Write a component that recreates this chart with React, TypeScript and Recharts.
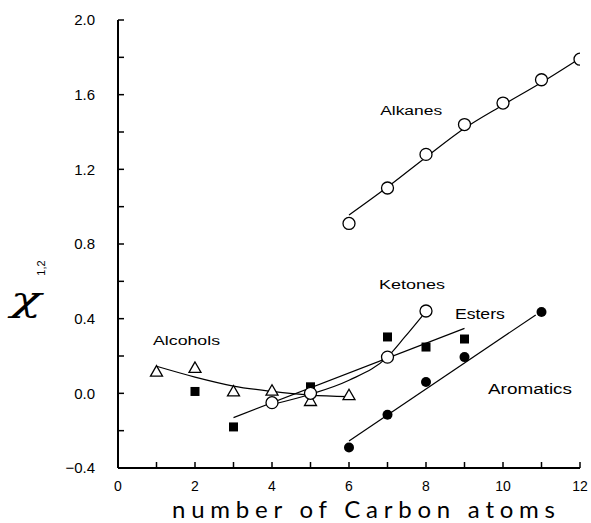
import React from "react";
import {
  ComposedChart,
  Line,
  Scatter,
  XAxis,
  YAxis,
} from "recharts";

// measured points
const alkanesX = [6, 7, 8, 9, 10, 11, 12];
const alkanesY = [0.91, 1.1, 1.28, 1.44, 1.555, 1.68, 1.79];

const alcoholsX = [1, 2, 3, 4, 5, 6];
const alcoholsY = [0.116, 0.136, 0.01, 0.014, -0.041, -0.01];

const estersX = [2, 3, 5, 7, 8, 9];
const estersY = [0.01, -0.18, 0.035, 0.302, 0.248, 0.291];

const ketonesX = [4, 5, 7, 8];
const ketonesY = [-0.05, 0.0, 0.194, 0.441];

const aromaticsX = [6, 7, 8, 9, 11];
const aromaticsY = [-0.29, -0.115, 0.061, 0.194, 0.436];

// fitted curves drawn in the figure
const alkanesFitX = [6, 7, 8, 9, 10, 11, 11.85];
const alkanesFitY = [0.955, 1.105, 1.265, 1.42, 1.545, 1.665, 1.775];

const alcoholsFitX = [1, 2, 3, 4, 5, 6];
const alcoholsFitY = [0.145, 0.087, 0.039, 0.01, -0.01, -0.018];

const estersFitX = [3, 9];
const estersFitY = [-0.13, 0.348];

const ketonesFitX = [4, 5, 6, 7, 7.45, 7.9];
const ketonesFitY = [-0.06, -0.005, 0.07, 0.195, 0.302, 0.414];

const aromaticsFitX = [6, 10.85];
const aromaticsFitY = [-0.255, 0.42];

// series names, placed where they sit in the figure (data coords)
const labelNames = ["Alkanes", "Ketones", "Esters", "Alcohols", "Aromatics"];
const labelX = [6.81, 6.78, 8.75, 0.91, 9.61];
const labelY = [1.491, 0.559, 0.398, 0.259, -0.004];
const labelWidth = [62, 66, 50, 67, 84];
const labelSize = [12, 13.5, 15, 12.5, 14];

const xTicks = [0, 1, 2, 3, 4, 5, 6, 7, 8, 9, 10, 11, 12];
const yTicks = [-0.4, -0.2, 0, 0.2, 0.4, 0.6, 0.8, 1.0, 1.2, 1.4, 1.6, 1.8, 2.0];

const zip = (xs: number[], ys: number[]) => xs.map((x, i) => ({ x, y: ys[i] }));

const labels = labelNames.map((name, i) => ({
  name,
  x: labelX[i],
  y: labelY[i],
  w: labelWidth[i],
  fs: labelSize[i],
}));

const OpenCircle = ({ cx, cy }: any) => (
  <circle cx={cx} cy={cy} r={6} fill="#fff" stroke="#000" strokeWidth={1.3} />
);
const FilledCircle = ({ cx, cy }: any) => <circle cx={cx} cy={cy} r={5} fill="#000" />;
const Square = ({ cx, cy }: any) => (
  <rect x={cx - 4.5} y={cy - 4.5} width={9} height={9} fill="#000" />
);
const Triangle = ({ cx, cy }: any) => (
  <polygon
    points={`${cx},${cy - 6} ${cx - 6},${cy + 4.5} ${cx + 6},${cy + 4.5}`}
    fill="#fff"
    stroke="#000"
    strokeWidth={1.3}
  />
);

const NameLabel = (props: any) => {
  const p = props.payload ?? props;
  return (
    <text
      x={props.cx}
      y={props.cy}
      fontFamily="Liberation Sans, Arial, sans-serif"
      fontSize={p.fs}
      textLength={p.w}
      lengthAdjust="spacingAndGlyphs"
      fill="#000"
    >
      {p.name}
    </text>
  );
};

const tickFont = { fontFamily: "Liberation Sans, Arial, sans-serif", fontSize: 14, fill: "#000" };

const fmtX = (v: number) => (v % 2 === 0 ? String(v) : "");
const fmtY = (v: number) => {
  if (Math.round(v * 10) % 4 !== 0) return "";
  return v < 0 ? "\u2212" + Math.abs(v).toFixed(1) : v.toFixed(1);
};

const lineProps = {
  type: "monotone" as const,
  dataKey: "y",
  stroke: "#000",
  strokeWidth: 1.2,
  dot: false,
  activeDot: false,
  isAnimationActive: false,
  legendType: "none" as const,
};

export default function App() {
  return (
    <div style={{ position: "absolute", left: 0, top: 0, width: 591, height: 523, background: "#fff" }}>
      <ComposedChart
        width={591}
        height={523}
        margin={{ top: 20, right: 11, bottom: 0, left: 0 }}
      >
        <XAxis
          type="number"
          dataKey="x"
          domain={[0, 12]}
          ticks={xTicks}
          interval={0}
          tickSize={-6}
          tickMargin={19}
          tickLine={{ stroke: "#000", strokeWidth: 1.5 }}
          tickFormatter={fmtX}
          tick={tickFont}
          axisLine={{ stroke: "#000", strokeWidth: 2 }}
          height={55}
          allowDataOverflow
        />
        <YAxis
          type="number"
          dataKey="y"
          domain={[-0.4, 2.0]}
          ticks={yTicks}
          interval={0}
          tickSize={-6}
          tickMargin={29}
          tickLine={{ stroke: "#000", strokeWidth: 1.5 }}
          tickFormatter={fmtY}
          tick={{ ...tickFont, fontSize: 15 }}
          axisLine={{ stroke: "#000", strokeWidth: 2 }}
          width={118}
          allowDataOverflow
        />

        <Line {...lineProps} data={zip(alkanesFitX, alkanesFitY)} />
        <Line {...lineProps} data={zip(alcoholsFitX, alcoholsFitY)} />
        <Line {...lineProps} type="linear" data={zip(estersFitX, estersFitY)} />
        <Line {...lineProps} data={zip(ketonesFitX, ketonesFitY)} />
        <Line {...lineProps} type="linear" data={zip(aromaticsFitX, aromaticsFitY)} />

        <Scatter data={zip(alcoholsX, alcoholsY)} shape={<Triangle />} isAnimationActive={false} />
        <Scatter data={zip(estersX, estersY)} shape={<Square />} isAnimationActive={false} />
        <Scatter data={zip(ketonesX, ketonesY)} shape={<OpenCircle />} isAnimationActive={false} />
        <Scatter data={zip(alkanesX, alkanesY)} shape={<OpenCircle />} isAnimationActive={false} />
        <Scatter data={zip(aromaticsX, aromaticsY)} shape={<FilledCircle />} isAnimationActive={false} />
        <Scatter data={labels} shape={<NameLabel />} isAnimationActive={false} />
      </ComposedChart>

      {/* axis titles */}
      <svg
        width={591}
        height={523}
        style={{ position: "absolute", left: 0, top: 0, pointerEvents: "none" }}
      >
        <text
          x={172}
          y={518}
          fontFamily="Lato, 'DejaVu Sans', sans-serif"
          fontSize={24}
          textLength={383}
          lengthAdjust="spacing"
          fill="#000"
        >
          number of Carbon atoms
        </text>
        <text
          x={0}
          y={0}
          transform="translate(26,311) scale(1.5,1)"
          textAnchor="middle"
          fontFamily="'DejaVu Serif', serif"
          fontStyle="italic"
          fontSize={34}
          fill="#000"
        >
          χ
        </text>
        <text
          x={0}
          y={0}
          transform="translate(45,268) rotate(-90)"
          textAnchor="middle"
          fontFamily="Liberation Sans, Arial, sans-serif"
          fontSize={11}
          fill="#000"
        >
          1,2
        </text>
      </svg>
    </div>
  );
}
